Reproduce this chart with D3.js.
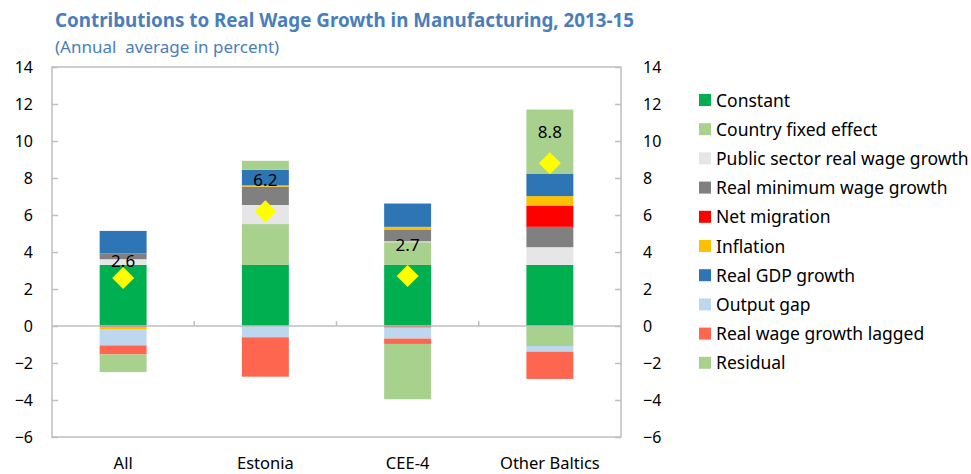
<!DOCTYPE html>
<html>
<head>
<meta charset="utf-8">
<script src="https://cdn.jsdelivr.net/npm/d3@7"></script>
<style>
  body { margin: 0; background: #fff; }
  svg text { font-family: "Noto Sans", "Open Sans", sans-serif; }
</style>
</head>
<body>
<div class="chart"></div>
<script>
// data
var categories = ["All", "Estonia", "CEE-4", "Other Baltics"];
var seriesNames = ["Constant", "Country fixed effect", "Public sector real wage growth",
  "Real minimum wage growth", "Net migration", "Inflation", "Real GDP growth",
  "Output gap", "Real wage growth lagged", "Residual"];
var constant     = [3.3, 3.3, 3.3, 3.3];
var countryFE    = [0, 2.21, 1.23, -1.08];
var publicSector = [0.31, 1.03, 0.05, 0.96];
var minWage      = [0.32, 0.99, 0.64, 1.10];
var netMigration = [-0.05, 0, -0.08, 1.15];
var inflation    = [-0.15, 0.07, 0.14, 0.51];
var realGDP      = [1.21, 0.85, 1.26, 1.22];
var outputGap    = [-0.85, -0.61, -0.60, -0.31];
var wageLagged   = [-0.49, -2.13, -0.29, -1.47];
var residual     = [-0.95, 0.48, -2.99, 3.46];
var totals       = [2.6, 6.2, 2.7, 8.8];
var yTicks       = [-6, -4, -2, 0, 2, 4, 6, 8, 10, 12, 14];

var colors = ["#00B050", "#A9D18E", "#E7E6E6", "#808080", "#FF0000",
  "#FFC000", "#2E75B6", "#BDD7EE", "#FF6650", "#A9D18E"];

var allSeries = [constant, countryFE, publicSector, minWage, netMigration,
  inflation, realGDP, outputGap, wageLagged, residual];

var rows = categories.map(function(c, i) {
  var r = {cat: c, total: totals[i]};
  seriesNames.forEach(function(s, j) { r[s] = allSeries[j][i]; });
  return r;
});

var svgWidth = 971, svgHeight = 474;
var margin = {top: 67, left: 52, right: 350, bottom: 37};
var plotRight = svgWidth - margin.right; // 621
var plotBottom = svgHeight - margin.bottom;  // 437

var svg = d3.select(".chart").append("svg")
  .attr("width", svgWidth)
  .attr("height", svgHeight);

var x = d3.scaleBand()
  .domain(categories)
  .range([margin.left, plotRight])
  .paddingInner(0.67)
  .paddingOuter(0.335);

var xCat = d3.scaleBand().domain(categories).range([margin.left, plotRight]);

var y = d3.scaleLinear().domain([-6, 14]).range([plotBottom, margin.top]);

var stack = d3.stack()
  .keys(seriesNames)
  .offset(d3.stackOffsetDiverging);
var stacked = stack(rows);

// bars
svg.append("g")
  .selectAll("g")
  .data(stacked)
  .enter()
  .append("g")
  .attr("fill", (d, i) => colors[i])
  .selectAll("rect")
  .data(d => d)
  .enter()
  .append("rect")
  .attr("x", d => x(d.data.cat))
  .attr("width", x.bandwidth())
  .attr("y", d => y(Math.max(d[0], d[1])))
  .attr("height", d => Math.abs(y(d[0]) - y(d[1])));

// box and zero line
var grey = "#BFBFBF";
svg.append("rect")
  .attr("x", margin.left).attr("y", margin.top)
  .attr("width", plotRight - margin.left).attr("height", plotBottom - margin.top)
  .attr("fill", "none").attr("stroke", grey).attr("stroke-width", 1.5);

svg.append("line")
  .attr("x1", margin.left).attr("x2", plotRight)
  .attr("y1", y(0)).attr("y2", y(0))
  .attr("stroke", grey).attr("stroke-width", 1.5);

// category ticks on zero line
svg.append("g")
  .selectAll("line")
  .data(categories.slice(1))
  .enter()
  .append("line")
  .attr("x1", d => xCat(d)).attr("x2", d => xCat(d))
  .attr("y1", y(0)).attr("y2", y(0) - 5)
  .attr("stroke", grey).attr("stroke-width", 1.5);

// axes
var leftAxis = d3.axisLeft(y).tickValues(yTicks).tickSizeInner(-6).tickSizeOuter(0).tickPadding(19);
var rightAxis = d3.axisRight(y).tickValues(yTicks).tickSizeInner(-6).tickSizeOuter(0).tickPadding(22);

function styleAxis(g) {
  g.select(".domain").remove();
  g.selectAll(".tick line").attr("stroke", grey).attr("stroke-width", 1.5);
  g.selectAll(".tick text")
    .attr("font-size", "16px")
    .attr("fill", "#000")
    .style("font-family", "'Noto Sans', sans-serif");
}

svg.append("g")
  .attr("transform", `translate(${margin.left},0)`)
  .call(leftAxis)
  .call(styleAxis);

svg.append("g")
  .attr("transform", `translate(${plotRight},0)`)
  .call(rightAxis)
  .call(styleAxis);

// category labels
svg.append("g")
  .selectAll("text")
  .data(categories)
  .enter()
  .append("text")
  .attr("x", d => x(d) + x.bandwidth() / 2)
  .attr("y", 469)
  .attr("text-anchor", "middle")
  .attr("font-size", "16.5px")
  .text(d => d);

// diamonds for totals
var dsz = 11;
svg.append("g")
  .selectAll("path")
  .data(rows)
  .enter()
  .append("path")
  .attr("transform", d => `translate(${x(d.cat) + x.bandwidth() / 2},${y(d.total)})`)
  .attr("d", `M0,${-dsz}L${dsz},0L0,${dsz}L${-dsz},0Z`)
  .attr("fill", "#FFFF00");

// total labels (the first one sits lower, as in the original)
svg.append("g")
  .selectAll("text")
  .data(rows)
  .enter()
  .append("text")
  .attr("x", d => x(d.cat) + x.bandwidth() / 2)
  .attr("y", d => y(d.total) - (d.cat === "All" ? 11 : 25))
  .attr("text-anchor", "middle")
  .attr("font-size", "17px")
  .attr("fill", "#000")
  .text(d => d.total.toFixed(1));

// title
svg.append("text")
  .attr("x", 55).attr("y", 27)
  .attr("font-size", "18.8px")
  .attr("font-weight", "bold")
  .attr("fill", "#4A7EBB")
  .text("Contributions to Real Wage Growth in Manufacturing, 2013-15");

svg.append("text")
  .attr("x", 55).attr("y", 53)
  .attr("font-size", "17px")
  .attr("fill", "#4A7EBB")
  .attr("xml:space", "preserve")
  .style("white-space", "pre")
  .text("(Annual  average in percent)");

// legend
var legend = svg.append("g")
  .selectAll("g")
  .data(seriesNames)
  .enter()
  .append("g")
  .attr("transform", (d, i) => `translate(699,${100 + i * 29.2})`);

legend.append("rect")
  .attr("x", 0).attr("y", -6)
  .attr("width", 12).attr("height", 12)
  .attr("fill", (d, i) => colors[i]);

legend.append("text")
  .attr("x", 17).attr("y", 6.5)
  .attr("font-size", "17.5px")
  .attr("fill", "#000")
  .text(d => d);
</script>
</body>
</html>
